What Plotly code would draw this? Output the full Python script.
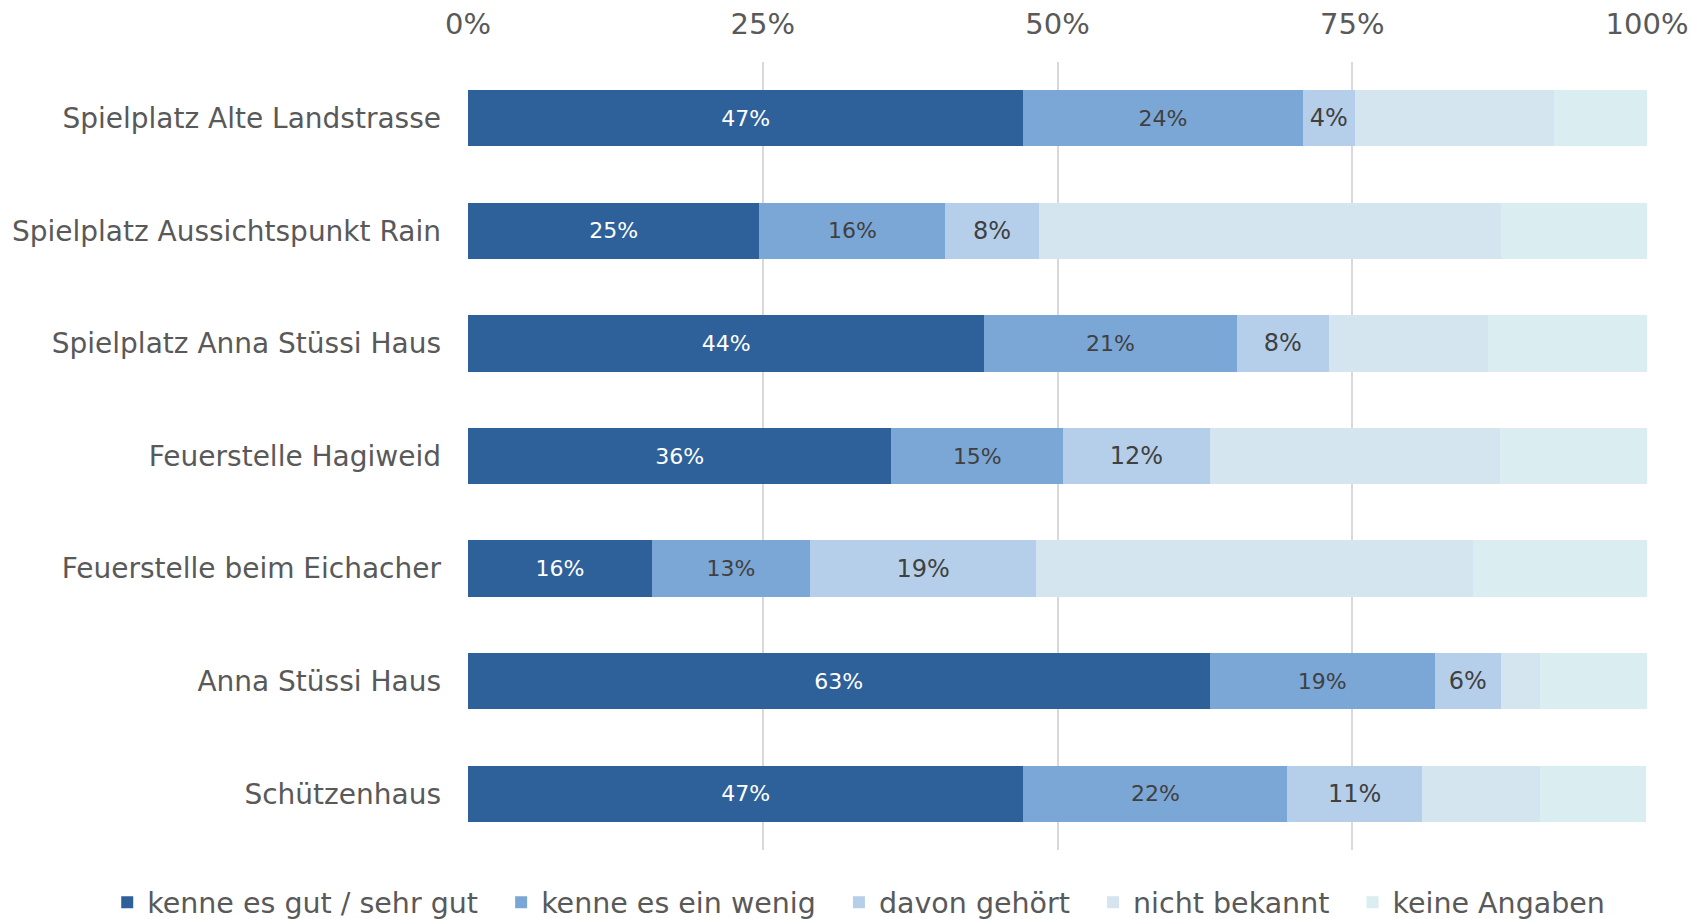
import plotly.graph_objects as go

categories = [
    "Spielplatz Alte Landstrasse",
    "Spielplatz Aussichtspunkt Rain",
    "Spielplatz Anna Stüssi Haus",
    "Feuerstelle Hagiweid",
    "Feuerstelle beim Eichacher",
    "Anna Stüssi Haus",
    "Schützenhaus",
]
series_names = ["kenne es gut / sehr gut", "kenne es ein wenig", "davon gehört",
                "nicht bekannt", "keine Angaben"]
gut = [47.1, 24.7, 43.8, 35.9, 15.6, 62.9, 47.1]
wenig = [23.7, 15.8, 21.4, 14.6, 13.4, 19.1, 22.4]
gehoert = [4.4, 7.9, 7.8, 12.4, 19.2, 5.6, 11.4]
nicht = [16.9, 39.2, 13.5, 24.6, 37.0, 3.3, 10.0]
keine = [7.9, 12.4, 13.5, 12.5, 14.8, 9.1, 9.0]
tick_vals = [0, 25, 50, 75, 100]

colors = ["#2E6199", "#7BA7D7", "#B5CFEA", "#D5E5EF", "#DAEDF0"]
label_colors = ["#FFFFFF", "#404040", "#404040", None, None]
label_sizes = [22, 22, 24, None, None]
values = [gut, wenig, gehoert, nicht, keine]

FONT = "Verdana, DejaVu Sans, sans-serif"
NBSP = "\u00a0"

fig = go.Figure()
for i, (name, vals) in enumerate(zip(series_names, values)):
    show_text = label_colors[i] is not None
    legend_name = name + (NBSP * 2 if i < len(series_names) - 1 else "")
    fig.add_trace(go.Bar(
        y=categories,
        x=vals,
        name=legend_name,
        orientation="h",
        marker=dict(color=colors[i], line=dict(width=0)),
        text=[f"{round(v)}%" for v in vals] if show_text else None,
        textposition="inside" if show_text else "none",
        insidetextanchor="middle",
        textangle=0,
        textfont=dict(family=FONT, size=label_sizes[i] or 12,
                      color=label_colors[i] or "#404040"),
        hoverinfo="x+y+name",
    ))

fig.update_layout(
    barmode="stack",
    bargap=0.5,
    width=1700,
    height=911,
    margin=dict(l=460, r=61, t=54, b=69, autoexpand=False),
    paper_bgcolor="white",
    plot_bgcolor="white",
    font=dict(family=FONT, color="#595959", size=28),
    showlegend=True,
    legend=dict(
        orientation="h",
        xref="paper",
        x=-0.306,
        xanchor="left",
        yref="paper",
        y=-0.067,
        yanchor="middle",
        font=dict(family=FONT, size=28.5, color="#595959"),
        traceorder="normal",
        itemclick=False,
    ),
    xaxis=dict(
        side="top",
        range=[0, 100],
        tickvals=tick_vals,
        ticktext=[f"{v}%" for v in tick_vals],
        showgrid=True,
        gridcolor="#D9D9D9",
        gridwidth=1.5,
        zeroline=False,
        showline=False,
        ticks="",
        ticklabelstandoff=21,
        tickfont=dict(family=FONT, size=29, color="#595959"),
        fixedrange=True,
    ),
    yaxis=dict(
        autorange="reversed",
        showgrid=False,
        zeroline=False,
        showline=False,
        ticks="",
        ticklabelstandoff=26,
        tickfont=dict(family=FONT, size=28, color="#595959"),
        fixedrange=True,
    ),
)

fig.write_html("out.html")
